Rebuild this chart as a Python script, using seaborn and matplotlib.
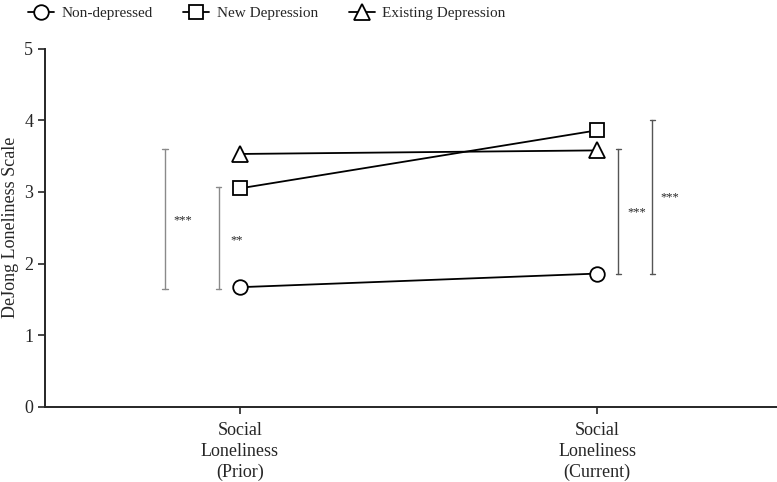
import pandas as pd
import seaborn as sns
import matplotlib.pyplot as plt

# data
conditions = ['Social\nLoneliness\n(Prior)', 'Social\nLoneliness\n(Current)']
groups = ['Non-depressed', 'New Depression', 'Existing Depression']
non_depressed = [1.67, 1.86]
new_depression = [3.05, 3.86]
existing_depression = [3.53, 3.58]

# significance brackets: (x position, low, high, label)
bracket_x = [-0.21, -0.06, 1.06, 1.155]
bracket_lo = [1.65, 1.65, 1.86, 1.86]
bracket_hi = [3.60, 3.07, 3.60, 4.00]
bracket_lab = ['***', '**', '***', '***']
bracket_lab_y = [2.61, 2.32, 2.71, 2.92]

df = pd.DataFrame({
    'x': [0, 1] * 3,
    'value': non_depressed + new_depression + existing_depression,
    'group': [g for g in groups for _ in range(2)],
})

sns.set_style('ticks')
plt.rcParams['font.family'] = ['Liberation Serif', 'DejaVu Serif']

fig = plt.figure(figsize=(7.77, 4.82), dpi=100)
ax = fig.add_axes([0.058, 0.156, 0.942, 0.743])

markers = {'Non-depressed': 'o', 'New Depression': 's', 'Existing Depression': '^'}
sizes = {'Non-depressed': 10.5, 'New Depression': 10.5, 'Existing Depression': 11.5}
for g in groups:
    sub = df[df['group'] == g]
    sns.lineplot(data=sub, x='x', y='value', ax=ax, color='black', lw=1.3,
                 marker=markers[g], markersize=sizes[g], markerfacecolor='white',
                 markeredgecolor='black', markeredgewidth=1.3, label=g, legend=False)

bracket_col = ['#8a8a8a', '#8a8a8a', '#555555', '#555555']
for bx, lo, hi, lab, ly, c in zip(bracket_x, bracket_lo, bracket_hi, bracket_lab, bracket_lab_y, bracket_col):
    ax.plot([bx, bx], [lo, hi], color=c, lw=1.0)
    ax.plot([bx - 0.008, bx + 0.008], [lo, lo], color=c, lw=1.0)
    ax.plot([bx - 0.008, bx + 0.008], [hi, hi], color=c, lw=1.0)
    ax.text(bx + 0.05, ly, lab, ha='center', va='center', fontsize=9)

ax.set_xlim(-0.546, 1.504)
ax.set_ylim(0, 5)
ax.set_xticks([0, 1])
ax.set_xticklabels(conditions, fontsize=12.5, linespacing=1.3)
ax.set_yticks(range(6))
ax.tick_params(axis='both', labelsize=13, width=1.2, length=5)
ax.tick_params(axis='x', pad=6)
ax.set_xlabel('')
ax.set_ylabel('DeJong Loneliness Scale', fontsize=13)
for s in ['top', 'right']:
    ax.spines[s].set_visible(False)
for s in ['left', 'bottom']:
    ax.spines[s].set_linewidth(1.4)

handles, labels = ax.get_legend_handles_labels()
fig.legend(handles, labels, loc='upper left', bbox_to_anchor=(0.018, 1.015), ncol=3,
           frameon=False, fontsize=11, columnspacing=2.0, handlelength=1.7,
           handletextpad=0.5)

fig.savefig('out.png', dpi=100)
